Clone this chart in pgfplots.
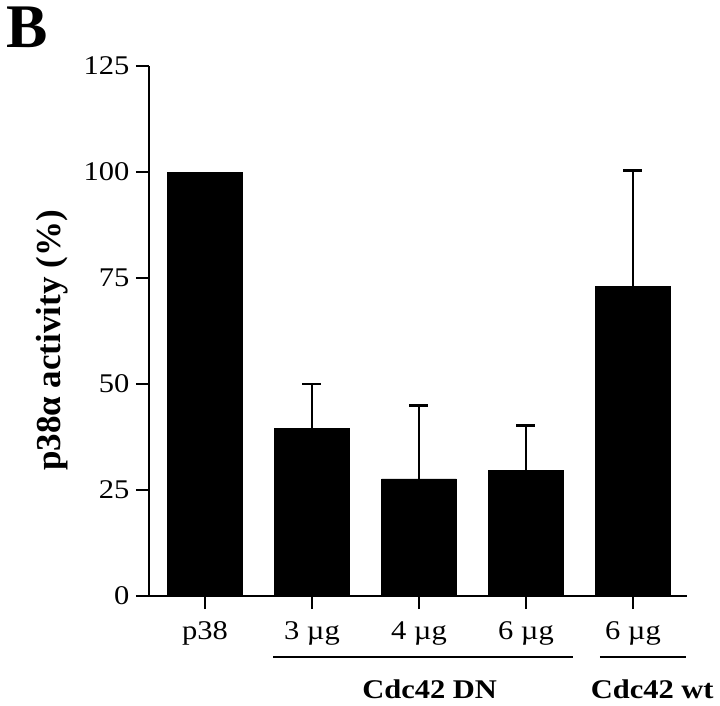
\documentclass[border=0pt]{standalone}
\usepackage{fontspec}
\setmainfont[FakeStretch=1.13]{Liberation Serif}
\newfontfamily\plainserif{Liberation Serif}
\usepackage{pgfplots}
\pgfplotsset{compat=1.18}
\begin{document}
\begin{tikzpicture}
\useasboundingbox (-149pt,-110pt) rectangle (571pt,596pt);
\begin{axis}[
  scale only axis,
  width=538pt, height=530pt,
  xmin=-0.523, xmax=4.505,
  ymin=0, ymax=125,
  axis x line*=bottom, axis y line*=left,
  axis line style={-, line width=2.8pt},
  tick align=outside,
  major tick length=13pt,
  major tick style={line width=2.8pt, black},
  xtick={0,1,2,3,4},
  xticklabels={p38, 3 µg, 4 µg, 6 µg, 6 µg},
  ytick={0,25,50,75,100,125},
  /pgf/number format/assume math mode=true,
  tick label style={font=\fontsize{27}{27}\selectfont},
  yticklabel style={xshift=-3pt},
  xticklabel style={anchor=base, yshift=-30pt},
  ylabel={\textbf{p38α activity (\%)}},
  every axis y label/.style={at={(axis description cs:-0.1654,0.482)}, rotate=90, anchor=base, font=\plainserif\fontsize{35}{35}\selectfont},
  ybar, bar width=0.7,
  clip=false,
]
\addplot[fill=black, draw=black, bar shift=0pt] coordinates {(0,100)};
\addplot[fill=black, draw=black, bar shift=0pt,
  error bars/.cd, y dir=plus, y explicit,
  error bar style={line width=2.8pt, black},
  error mark options={rotate=90, mark size=9.5pt, line width=2.8pt, black}]
  table[x=x, y=y, y error=e] {
x y e
1 39.6 10.4
2 27.6 17.3
3 29.6 10.7
4 73.1 27.2
};
\draw[line width=2.5pt] (axis cs:0.636,-14.4) -- (axis cs:3.44,-14.4);
\draw[line width=2.5pt] (axis cs:3.69,-14.4) -- (axis cs:4.50,-14.4);
\node[anchor=base, font=\fontsize{27}{27}\selectfont\bfseries] at (axis cs:2.1,-24.06) {Cdc42 DN};
\node[anchor=base, font=\fontsize{27}{27}\selectfont\bfseries] at (axis cs:4.18,-24.06) {Cdc42 wt};
\end{axis}
\node[anchor=base west, inner sep=0pt, font=\plainserif\fontsize{62}{62}\selectfont\bfseries] at (-143pt,548pt) {B};
\end{tikzpicture}
\end{document}
